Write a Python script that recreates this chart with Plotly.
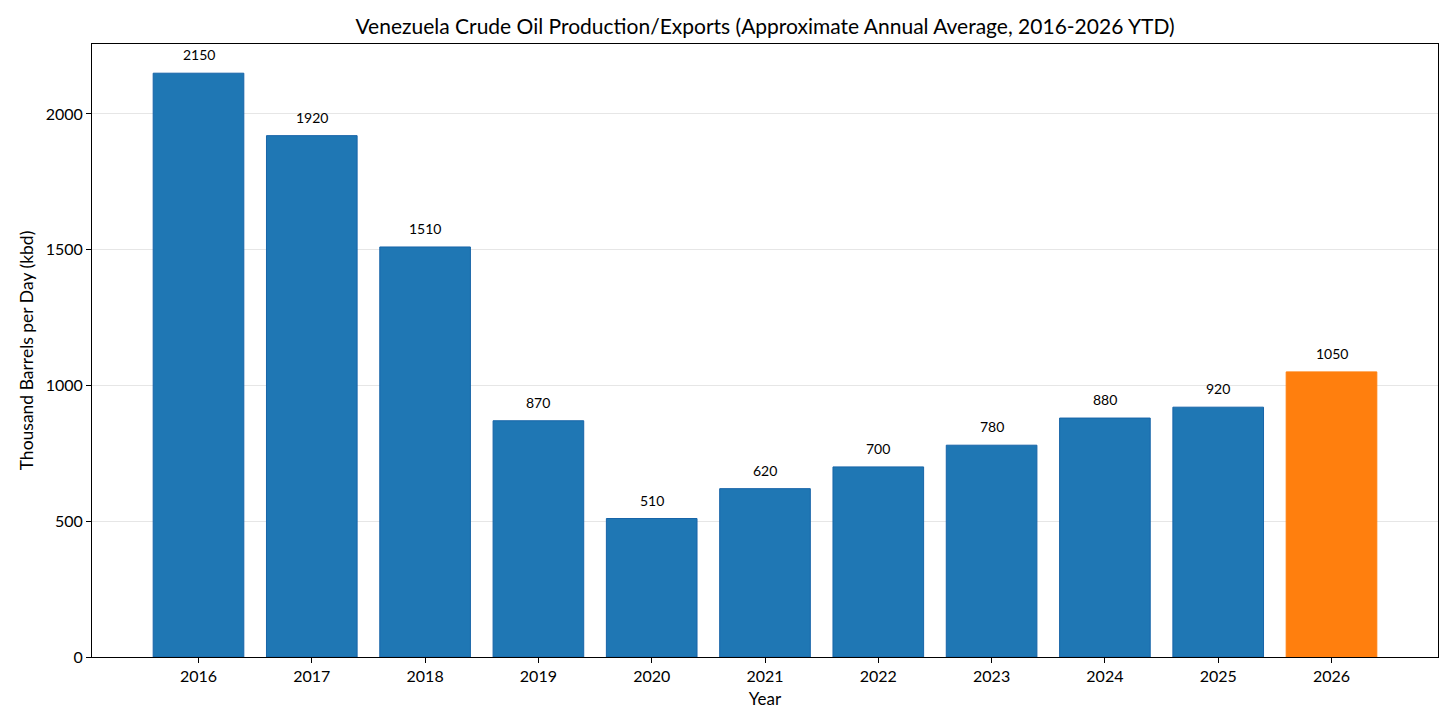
import plotly.graph_objects as go

# Approximate annual average, thousand barrels per day
years = [2016, 2017, 2018, 2019, 2020, 2021, 2022, 2023, 2024, 2025, 2026]
kbd = [2150, 1920, 1510, 870, 510, 620, 700, 780, 880, 920, 1050]
bar_colors = ["#1f77b4"] * 10 + ["#ff7f0e"]
edge_colors = ["#1764a8"] * 10 + ["#ff7f0e"]

FONT = "Lato, sans-serif"

fig = go.Figure()

fig.add_trace(go.Bar(
    x=years,
    y=kbd,
    width=0.8,
    marker=dict(color=bar_colors, line=dict(color=edge_colors, width=1)),
    showlegend=False,
))

# value labels above each bar
for yr, v in zip(years, kbd):
    fig.add_annotation(
        x=yr, y=v, text=str(v), showarrow=False,
        yanchor="bottom", yshift=8,
        font=dict(size=14, color="black"),
    )

# the page adds an 8px body margin, so margins are shifted to compensate
fig.update_layout(
    width=1456,
    height=728,
    margin=dict(l=84, r=26, t=36, b=79),
    plot_bgcolor="white",
    paper_bgcolor="white",
    font=dict(family=FONT, size=16, color="black"),
    title=dict(
        text="Venezuela Crude Oil Production/Exports (Approximate Annual Average, 2016-2026 YTD)",
        x=0.5, xref="paper", y=0.975, yanchor="middle",
        font=dict(size=21, color="black"),
    ),
)

fig.update_xaxes(
    title=dict(text="Year", standoff=8, font=dict(size=17)),
    range=[2016 - 0.94, 2026 + 0.94],
    tickmode="array", tickvals=years,
    ticks="outside", ticklen=5, tickcolor="black",
    showline=True, linecolor="black", linewidth=1, mirror=True,
    showgrid=False, zeroline=False,
)

fig.update_yaxes(
    title=dict(text="Thousand Barrels per Day (kbd)", standoff=7, font=dict(size=17.5)),
    range=[0, 2257.5],
    tickmode="array", tickvals=[0, 500, 1000, 1500, 2000],
    ticks="outside", ticklen=5, tickcolor="black",
    showline=True, linecolor="black", linewidth=1, mirror=True,
    showgrid=True, gridcolor="rgba(200,200,200,0.45)", gridwidth=1,
    zeroline=False, layer="above traces",
)

fig.write_html("out.html")
